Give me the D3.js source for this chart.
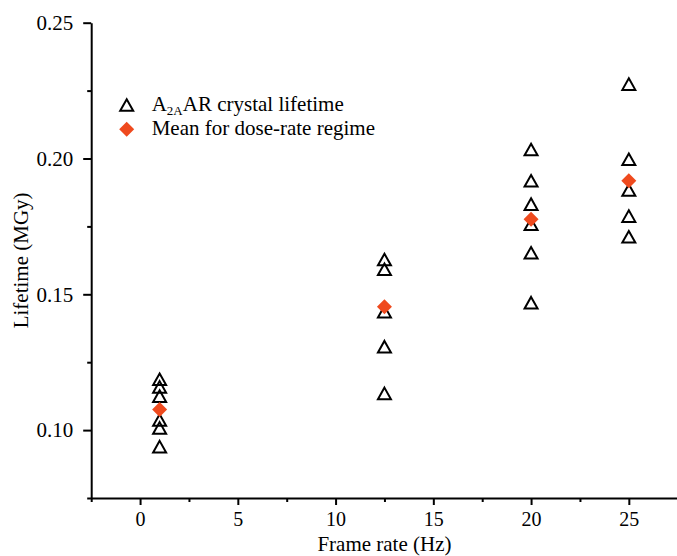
<!DOCTYPE html>
<meta charset="utf-8">
<head>
  <script src="https://d3js.org/d3.v7.min.js"></script>
<style>
body { margin: 0; background: #fff; }
text { font-family: "Liberation Serif", "Times New Roman", serif; fill: #000; }
.axis path, .axis line { stroke: #000; stroke-width: 2; }
</style>
</head>
<body>
<script>

// Frame rates of each dose-rate regime (Hz)
var rates = [1, 12.5, 20, 25];
// Individual crystal lifetimes (MGy) per regime
var lifetimes = [
  [0.1187, 0.1159, 0.1125, 0.1037, 0.1008, 0.0939],
  [0.1628, 0.1592, 0.1436, 0.1307, 0.1135],
  [0.2033, 0.1918, 0.1832, 0.1758, 0.1653, 0.1469],
  [0.2274, 0.1997, 0.1884, 0.1788, 0.1712]
];
// Mean lifetime for each regime (MGy)
var means = [0.1076, 0.1454, 0.1776, 0.1918];

var xTicks = [0, 5, 10, 15, 20, 25],
    xMinor = [-2.5, 2.5, 7.5, 12.5, 17.5, 22.5],
    yTicks = [0.10, 0.15, 0.20, 0.25],
    yMinor = [0.075, 0.125, 0.175, 0.225];

var width = 677, height = 556;
var orange = "#ef4a1e";

var svg = d3.select("body").append("svg")
    .attr("width", width)
    .attr("height", height);

// Set ranges
var x = d3.scaleLinear().domain([-2.5, 27.5]).range([91.2, 677.7]);
var y = d3.scaleLinear().domain([0.075, 0.25]).range([498, 22.7]);

// Minor ticks first
svg.append("g")
    .attr("class", "axis")
    .attr("transform", "translate(0," + y(0.075) + ")")
    .call(d3.axisBottom(x).tickValues(xMinor).tickSize(4).tickSizeOuter(0).tickFormat(""))
    .select(".domain").remove();
svg.append("g")
    .attr("class", "axis")
    .attr("transform", "translate(" + x(-2.5) + ",0)")
    .call(d3.axisLeft(y).tickValues(yMinor).tickSize(4).tickSizeOuter(0).tickFormat(""))
    .select(".domain").remove();

// Add x axis
svg.append("g")
    .attr("class", "axis")
    .attr("transform", "translate(0," + y(0.075) + ")")
    .call(d3.axisBottom(x).tickValues(xTicks).tickSize(7).tickSizeOuter(0).tickPadding(7))
    .selectAll("text")
      .style("font-size", "20px");

// Add y axis
svg.append("g")
    .attr("class", "axis")
    .attr("transform", "translate(" + x(-2.5) + ",0)")
    .call(d3.axisLeft(y).tickValues(yTicks).tickSize(8).tickSizeOuter(0).tickPadding(10)
      .tickFormat(d3.format(".2f")))
    .selectAll("text")
      .style("font-size", "21px");

// Axis titles
svg.append("text")
    .attr("x", (x(-2.5) + x(27.5)) / 2)
    .attr("y", 551)
    .attr("text-anchor", "middle")
    .style("font-size", "21px")
    .text("Frame rate (Hz)");

svg.append("text")
    .attr("transform", "translate(28," + (y(0.075) + y(0.25)) / 2 + ") rotate(-90)")
    .attr("text-anchor", "middle")
    .style("font-size", "21px")
    .text("Lifetime (MGy)");

var triPath = "M0,-5.8L6.5,5.8L-6.5,5.8Z";
var diaPath = "M0,-7.5L7.5,0L0,7.5L-7.5,0Z";

// Crystal lifetimes
var points = [];
rates.forEach(function(r, i) {
  lifetimes[i].forEach(function(v) { points.push({rate: r, value: v}); });
});

svg.selectAll(".tri")
    .data(points)
    .enter().append("path")
    .attr("class", "tri")
    .attr("d", triPath)
    .attr("transform", function(d) { return "translate(" + x(d.rate) + "," + y(d.value) + ")"; })
    .attr("fill", "none")
    .attr("stroke", "#000")
    .attr("stroke-width", 2)
    .attr("stroke-linejoin", "miter");

// Means
svg.selectAll(".mean")
    .data(rates)
    .enter().append("path")
    .attr("class", "mean")
    .attr("d", diaPath)
    .attr("transform", function(d, i) { return "translate(" + x(d) + "," + y(means[i]) + ")"; })
    .attr("fill", orange);

// Legend
var legend = svg.append("g");
legend.append("path")
    .attr("d", triPath)
    .attr("transform", "translate(126.7,105)")
    .attr("fill", "none")
    .attr("stroke", "#000")
    .attr("stroke-width", 2);
legend.append("path")
    .attr("d", diaPath)
    .attr("transform", "translate(126.7,129.3)")
    .attr("fill", orange);

var t1 = legend.append("text")
    .attr("x", 151.7)
    .attr("y", 110.5)
    .style("font-size", "21px");
t1.append("tspan").text("A");
t1.append("tspan").attr("dy", 4).style("font-size", "13px").text("2A");
t1.append("tspan").attr("dy", -4).text("AR crystal lifetime");

legend.append("text")
    .attr("x", 151.7)
    .attr("y", 135)
    .style("font-size", "21px")
    .text("Mean for dose-rate regime");

</script>
</body>
